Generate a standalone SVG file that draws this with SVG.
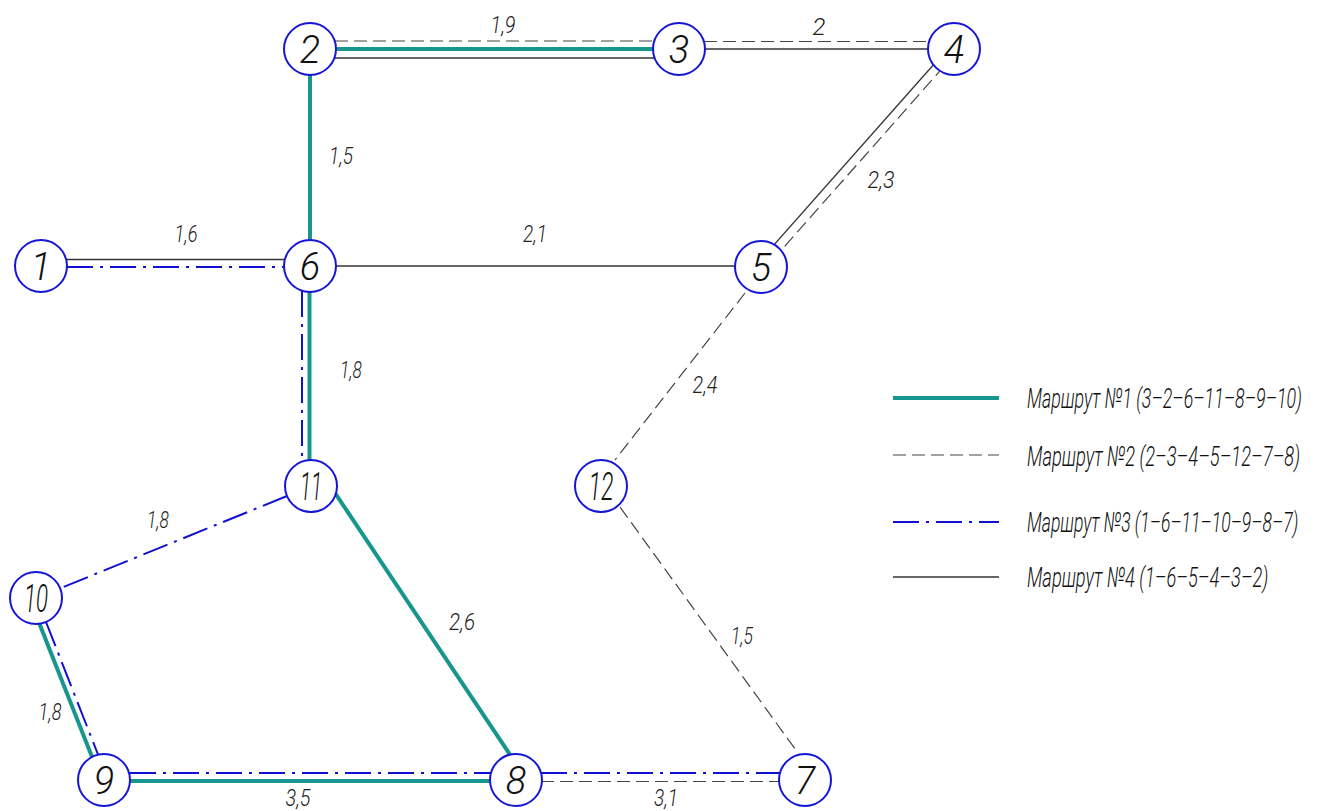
<svg xmlns="http://www.w3.org/2000/svg" width="1320" height="811" viewBox="0 0 1320 811">
  <style>
    .r1 { stroke: #17968f; stroke-width: 4; fill: none; }
    .r2 { stroke: #444; stroke-width: 1.2; stroke-dasharray: 13 6; fill: none; }
    .r3 { stroke: #1010d0; stroke-width: 2; stroke-dasharray: 26 7 3 7; fill: none; }
    .r4 { stroke: #333; stroke-width: 1.3; fill: none; }
    .node circle { fill: #fff; stroke: #1515d8; stroke-width: 2; }
    .node text { font-family: Roboto, "Liberation Sans", sans-serif; font-weight: 300; font-style: italic; font-size: 38px; fill: #111; text-anchor: middle; }
    .lbl { font-family: Roboto, "Liberation Sans", sans-serif; font-weight: 300; font-style: italic; font-size: 24px; fill: #222; text-anchor: middle; }
    .leg { font-family: Roboto, "Liberation Sans", sans-serif; font-weight: 300; font-style: italic; font-size: 28px; fill: #111; }
  </style>
  <rect width="1320" height="811" fill="#fff"/>

  <g id="connectors">
    <!-- 2-3 -->
    <line class="r2" x1="335" y1="41" x2="654" y2="41"/>
    <line class="r1" x1="310" y1="49" x2="679" y2="49"/>
    <line class="r4" x1="310" y1="58" x2="679" y2="58"/>
    <!-- 3-4 -->
    <line class="r2" x1="704" y1="41.5" x2="929" y2="41.5"/>
    <line class="r4" x1="679" y1="49" x2="954" y2="49" stroke="#555"/>
    <!-- 4-5 -->
    <line class="r4" x1="950.3" y1="45.7" x2="757.3" y2="263.7"/>
    <line class="r2" x1="957" y1="51.7" x2="764" y2="269.7"/>
    <!-- 6-5 -->
    <line class="r4" x1="310" y1="266" x2="761" y2="266"/>
    <!-- 2-6 -->
    <line class="r1" x1="310" y1="49" x2="310" y2="266"/>
    <!-- 1-6 -->
    <line class="r4" x1="41" y1="259.5" x2="310" y2="259.5"/>
    <line class="r3" x1="67" y1="267" x2="285" y2="267"/>
    <!-- 6-11 -->
    <line class="r1" x1="309.5" y1="266" x2="309.5" y2="486"/>
    <line class="r3" x1="302" y1="291" x2="302" y2="461"/>
    <!-- 11-10 -->
    <line class="r3" x1="287" y1="496" x2="61" y2="588"/>
    <!-- 11-8 -->
    <line class="r1" x1="325" y1="478" x2="527" y2="780"/>
    <!-- 10-9 -->
    <line class="r1" x1="37" y1="617.6" x2="95" y2="764.4"/>
    <line class="r3" x1="46" y1="622" x2="99" y2="757"/>
    <!-- 9-8 -->
    <line class="r3" x1="130" y1="773" x2="491" y2="773"/>
    <line class="r1" x1="104" y1="781" x2="516" y2="781"/>
    <!-- 8-7 -->
    <line class="r3" x1="541" y1="773" x2="780" y2="773"/>
    <line class="r2" x1="541" y1="781.5" x2="780" y2="781.5"/>
    <!-- 5-12 -->
    <line class="r2" x1="745" y1="293" x2="615" y2="460"/>
    <!-- 12-7 -->
    <line class="r2" x1="620" y1="507" x2="798" y2="753"/>
  </g>

  <g id="edge-labels">
    <text class="lbl" x="503" y="33" textLength="25" lengthAdjust="spacingAndGlyphs">1,9</text>
    <text class="lbl" x="819" y="35">2</text>
    <text class="lbl" x="881" y="188" textLength="27" lengthAdjust="spacingAndGlyphs">2,3</text>
    <text class="lbl" x="341" y="164" textLength="24" lengthAdjust="spacingAndGlyphs">1,5</text>
    <text class="lbl" x="186" y="242" textLength="23" lengthAdjust="spacingAndGlyphs">1,6</text>
    <text class="lbl" x="535" y="242" textLength="24" lengthAdjust="spacingAndGlyphs">2,1</text>
    <text class="lbl" x="351" y="378" textLength="22" lengthAdjust="spacingAndGlyphs">1,8</text>
    <text class="lbl" x="158" y="528" textLength="22" lengthAdjust="spacingAndGlyphs">1,8</text>
    <text class="lbl" x="705" y="393" textLength="25" lengthAdjust="spacingAndGlyphs">2,4</text>
    <text class="lbl" x="462" y="630" textLength="26" lengthAdjust="spacingAndGlyphs">2,6</text>
    <text class="lbl" x="742" y="644" textLength="22" lengthAdjust="spacingAndGlyphs">1,5</text>
    <text class="lbl" x="50" y="720" textLength="23" lengthAdjust="spacingAndGlyphs">1,8</text>
    <text class="lbl" x="298" y="806" textLength="25" lengthAdjust="spacingAndGlyphs">3,5</text>
    <text class="lbl" x="666" y="806" textLength="24" lengthAdjust="spacingAndGlyphs">3,1</text>
  </g>

  <g id="n1" class="node"><circle cx="41" cy="266" r="26"/><text x="41" y="280">1</text></g>
  <g id="n2" class="node"><circle cx="310" cy="49" r="26"/><text x="310" y="63">2</text></g>
  <g id="n3" class="node"><circle cx="679" cy="49" r="26"/><text x="679" y="63">3</text></g>
  <g id="n4" class="node"><circle cx="954" cy="49" r="26"/><text x="954" y="63">4</text></g>
  <g id="n5" class="node"><circle cx="761" cy="267" r="26"/><text x="761" y="281">5</text></g>
  <g id="n6" class="node"><circle cx="310" cy="266" r="26"/><text x="310" y="280">6</text></g>
  <g id="n7" class="node"><circle cx="805" cy="780" r="26"/><text x="805" y="794">7</text></g>
  <g id="n8" class="node"><circle cx="516" cy="780" r="26"/><text x="516" y="794">8</text></g>
  <g id="n9" class="node"><circle cx="104" cy="780" r="26"/><text x="104" y="794">9</text></g>
  <g id="n10" class="node"><circle cx="36" cy="598" r="26"/><text x="36" y="612" textLength="24" lengthAdjust="spacingAndGlyphs">10</text></g>
  <g id="n11" class="node"><circle cx="311" cy="486" r="26"/><text x="311" y="500" textLength="22" lengthAdjust="spacingAndGlyphs">11</text></g>
  <g id="n12" class="node"><circle cx="601" cy="486" r="26"/><text x="601" y="500" textLength="25" lengthAdjust="spacingAndGlyphs">12</text></g>

  <g id="legend">
    <line class="r1" x1="893" y1="398" x2="999" y2="398"/>
    <text class="leg" transform="translate(1027,408) scale(0.6,1)" textLength="458" lengthAdjust="spacingAndGlyphs">Маршрут №1 (3–2–6–11–8–9–10)</text>
    <line class="r2" x1="893" y1="455" x2="999" y2="455" stroke-dasharray="11 7"/>
    <text class="leg" transform="translate(1027,466) scale(0.6,1)" textLength="455" lengthAdjust="spacingAndGlyphs">Маршрут №2 (2–3–4–5–12–7–8)</text>
    <line class="r3" x1="893" y1="522" x2="999" y2="522" stroke-dasharray="34 10 3 10"/>
    <text class="leg" transform="translate(1027,532) scale(0.6,1)" textLength="452" lengthAdjust="spacingAndGlyphs">Маршрут №3 (1–6–11–10–9–8–7)</text>
    <line class="r4" x1="893" y1="577" x2="999" y2="577" stroke="#777" stroke-width="1.5"/>
    <text class="leg" transform="translate(1027,587) scale(0.6,1)" textLength="402" lengthAdjust="spacingAndGlyphs">Маршрут №4 (1–6–5–4–3–2)</text>
  </g>
</svg>
